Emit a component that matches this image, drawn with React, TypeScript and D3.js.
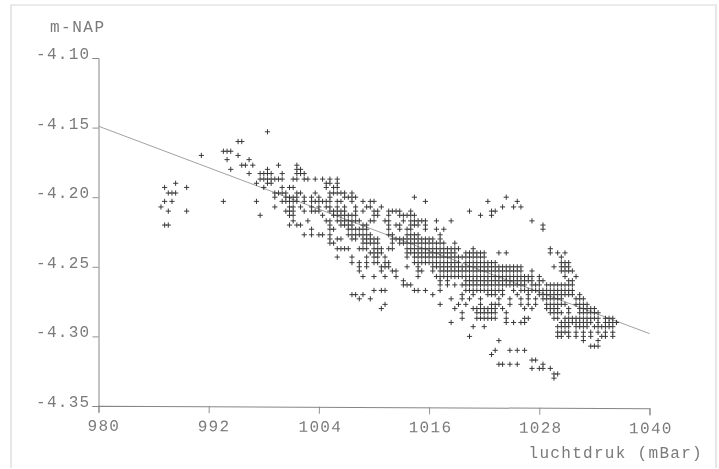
import React, { useEffect, useRef } from 'react'
import * as d3 from 'd3'

const yTicks = [-4.1, -4.15, -4.2, -4.25, -4.3, -4.35]
const xTicks = [980, 992, 1004, 1016, 1028, 1040]
const trendPressure = [980, 1040]
const trendLevel = [-4.149, -4.298]

const levels = [
  -4.153, -4.16, -4.167, -4.17, -4.173, -4.177, -4.18, -4.183, -4.187, -4.19, -4.193, -4.197, -4.2, -4.203,
  -4.207, -4.21, -4.213, -4.217, -4.22, -4.223, -4.227, -4.23, -4.233, -4.237, -4.24, -4.243, -4.247, -4.25,
  -4.253, -4.257, -4.26, -4.263, -4.267, -4.27, -4.273, -4.277, -4.28, -4.283, -4.287, -4.29, -4.293, -4.297,
  -4.3, -4.303, -4.307, -4.31, -4.313, -4.317, -4.32, -4.323, -4.327, -4.33,
]

// one list of pressures (mBar) per entry of levels
const pressures = [
  [998.4],
  [995.2, 995.6],
  [993.6, 994, 994.4],
  [991.2, 995.2],
  [994, 996.4],
  [995.6, 996, 996.8, 999.6, 1001.6],
  [994.4, 998.4, 1001.6, 1002],
  [996.4, 997.6, 998, 998.4, 998.8, 1000, 1001.6, 1002, 1002.4],
  [997.6, 998, 998.4, 998.8, 999.2, 999.6, 1000, 1001.2, 1001.6, 1002.4, 1002.8, 1003.6, 1004.4, 1005.2, 1006],
  [988.4, 997.2, 998.4, 998.8, 1004.8, 1005.2, 1006],
  [987.2, 989.6, 998, 1000, 1000.8, 1001.2, 1004.8, 1005.6, 1006],
  [987.6, 988, 988.4, 999.2, 999.6, 1000, 1000.4, 1001.6, 1002, 1003.6, 1005.2, 1005.6, 1006, 1006.4, 1006.8, 1007.6],
  [999.2, 1000.4, 1000.8, 1001.2, 1001.6, 1002.4, 1003.2, 1004, 1005.2, 1006.8, 1007.2, 1007.6, 1008, 1014.4, 1024.4],
  [987.2, 988, 993.6, 997.2, 1000, 1000.4, 1000.8, 1001.2, 1001.6, 1002.4, 1003.2, 1003.6, 1004, 1004.4, 1004.8, 1005.2, 1006, 1006.4, 1007.6, 1008.8, 1009.6, 1010, 1015.6, 1022.4, 1025.6],
  [986.8, 999.2, 1000.8, 1001.2, 1002, 1003.2, 1004, 1004.8, 1005.2, 1006, 1006.8, 1008, 1009.2, 1009.6, 1010.8, 1024, 1025.2, 1026],
  [987.6, 989.6, 1000.4, 1000.8, 1001.2, 1002.4, 1003.2, 1003.6, 1004, 1005.2, 1005.6, 1006, 1006.4, 1006.8, 1008, 1008.8, 1010, 1010.4, 1011.6, 1012, 1012.4, 1012.8, 1014, 1020.4, 1022.8, 1023.2],
  [997.6, 1000.8, 1001.2, 1004.4, 1005.6, 1006, 1006.4, 1006.8, 1007.2, 1007.6, 1008, 1010, 1010.4, 1011.6, 1012.8, 1013.2, 1013.6, 1014, 1014.4, 1021.6, 1022.8],
  [1001.2, 1002.8, 1004.8, 1005.2, 1006, 1006.4, 1006.8, 1007.2, 1007.6, 1008, 1008.4, 1009.6, 1010, 1011.2, 1011.6, 1013.2, 1014, 1014.4, 1014.8, 1015.2, 1015.6, 1016.8, 1018.4, 1027.2],
  [987.2, 987.6, 1000.8, 1001.6, 1002, 1005.2, 1006.4, 1006.8, 1007.2, 1007.6, 1008.8, 1009.2, 1011.6, 1012.4, 1012.8, 1014, 1014.4, 1014.8, 1015.6, 1028.4],
  [1003.2, 1005.2, 1005.6, 1007.2, 1007.6, 1008, 1008.4, 1008.8, 1009.2, 1011.6, 1012.8, 1013.6, 1014, 1015.6, 1016.8, 1017.6, 1028.4],
  [1002.4, 1003.2, 1004, 1004.4, 1005.2, 1007.2, 1007.6, 1008, 1008.4, 1008.8, 1009.2, 1009.6, 1011.6, 1012, 1013.6, 1014, 1014.4, 1014.8, 1017.2],
  [1005.2, 1006, 1006.4, 1007.6, 1008, 1008.8, 1009.2, 1009.6, 1010, 1010.4, 1012, 1012.4, 1012.8, 1013.2, 1013.6, 1014, 1014.4, 1014.8, 1015.2, 1015.6, 1016, 1016.4, 1017.2],
  [1005.2, 1005.6, 1008.8, 1009.2, 1009.6, 1010, 1010.4, 1012, 1012.8, 1013.2, 1013.6, 1014, 1014.4, 1014.8, 1015.2, 1015.6, 1016, 1016.4, 1016.8, 1017.2, 1017.6, 1018.8],
  [1006, 1006.4, 1006.8, 1007.2, 1008.4, 1008.8, 1009.2, 1010, 1010.4, 1010.8, 1011.6, 1012, 1013.6, 1014, 1014.4, 1014.8, 1015.2, 1015.6, 1016, 1016.4, 1016.8, 1017.2, 1017.6, 1018, 1018.4, 1018.8, 1019.2, 1020.8, 1029.2],
  [1009.6, 1010, 1010.4, 1010.8, 1013.6, 1014, 1014.4, 1014.8, 1015.2, 1015.6, 1016, 1016.4, 1016.8, 1017.2, 1017.6, 1018, 1018.4, 1018.8, 1020, 1020.4, 1020.8, 1021.2, 1021.6, 1022, 1023.6, 1024.4, 1029.2, 1030, 1030.8],
  [1006, 1007.6, 1009.2, 1010, 1010.4, 1011.2, 1013.6, 1014.4, 1014.8, 1015.2, 1015.6, 1016, 1016.4, 1016.8, 1017.2, 1017.6, 1018, 1018.4, 1018.8, 1019.2, 1019.6, 1020, 1020.4, 1020.8, 1021.2, 1021.6, 1022, 1030.4],
  [1007.6, 1008.4, 1009.2, 1010, 1010.4, 1011.2, 1011.6, 1014.4, 1014.8, 1015.2, 1015.6, 1016, 1016.4, 1016.8, 1017.2, 1017.6, 1018, 1018.4, 1018.8, 1019.2, 1020, 1020.4, 1020.8, 1021.2, 1021.6, 1022, 1022.4, 1022.8, 1023.2, 1030.4, 1030.8, 1031.2],
  [1008.4, 1009.2, 1010.8, 1011.2, 1011.6, 1013.6, 1014.8, 1016.4, 1016.8, 1017.2, 1017.6, 1018, 1018.4, 1018.8, 1019.2, 1019.6, 1020, 1020.4, 1020.8, 1021.2, 1021.6, 1022, 1022.4, 1022.8, 1023.2, 1023.6, 1024, 1024.4, 1024.8, 1025.2, 1025.6, 1026, 1029.6, 1030.4, 1030.8, 1031.2],
  [1008.4, 1010.8, 1012, 1012.4, 1014.8, 1015.2, 1016.4, 1017.2, 1017.6, 1018, 1018.4, 1018.8, 1019.2, 1019.6, 1020, 1020.4, 1020.8, 1021.2, 1021.6, 1022, 1022.4, 1022.8, 1023.2, 1023.6, 1024, 1024.4, 1024.8, 1025.2, 1025.6, 1026, 1027.2, 1030.4, 1030.8, 1031.2, 1031.6],
  [1008.8, 1010, 1011.2, 1012.4, 1014.8, 1016.8, 1017.2, 1017.6, 1018, 1018.4, 1018.8, 1019.2, 1019.6, 1020, 1020.4, 1020.8, 1021.2, 1021.6, 1022, 1022.4, 1022.8, 1023.2, 1023.6, 1024, 1024.4, 1024.8, 1025.2, 1025.6, 1026, 1026.4, 1026.8, 1027.2, 1028, 1030.8, 1032],
  [1013.2, 1017.2, 1018, 1020, 1020.4, 1020.8, 1021.2, 1021.6, 1022, 1022.4, 1022.8, 1023.2, 1023.6, 1024, 1024.4, 1024.8, 1025.2, 1025.6, 1026, 1026.4, 1026.8, 1027.2, 1028, 1028.4, 1031.2, 1031.6],
  [1013.2, 1013.6, 1014, 1017.2, 1018, 1018.8, 1019.6, 1020, 1020.4, 1020.8, 1021.2, 1021.6, 1022, 1022.4, 1022.8, 1023.2, 1023.6, 1024, 1024.4, 1024.8, 1025.2, 1025.6, 1026, 1026.4, 1027.2, 1027.6, 1028, 1028.8, 1029.2, 1029.6, 1030, 1030.4, 1030.8, 1031.2, 1031.6],
  [1010, 1010.8, 1011.2, 1014.4, 1014.8, 1015.6, 1017.2, 1020, 1020.4, 1020.8, 1021.2, 1021.6, 1022, 1022.4, 1022.8, 1023.2, 1023.6, 1024, 1025.2, 1026, 1026.4, 1026.8, 1027.2, 1027.6, 1028, 1028.4, 1028.8, 1029.2, 1029.6, 1030, 1030.4, 1030.8, 1031.2, 1031.6],
  [1007.6, 1008, 1008.8, 1016.4, 1019.6, 1020.8, 1022.4, 1022.8, 1023.2, 1024, 1025.6, 1026.8, 1028, 1028.4, 1028.8, 1029.2, 1029.6, 1030, 1030.4, 1030.8, 1031.2, 1031.6, 1032.4],
  [1008.4, 1009.6, 1018.4, 1019.6, 1020.4, 1021.6, 1023.6, 1024.8, 1026, 1026.8, 1027.6, 1028.4, 1028.8, 1029.2, 1029.6, 1030, 1030.4, 1032, 1032.4, 1032.8],
  [1011.2, 1017.2, 1019.2, 1020, 1021.6, 1022.8, 1023.2, 1023.6, 1024.8, 1026, 1026.8, 1027.6, 1028.8, 1029.2, 1029.6, 1030, 1030.4, 1030.8, 1032, 1032.4, 1032.8, 1033.2],
  [1010.8, 1018.8, 1020.8, 1021.2, 1021.6, 1022, 1022.4, 1022.8, 1023.2, 1024, 1026.4, 1027.2, 1028.8, 1029.2, 1029.6, 1030, 1031.2, 1032.4, 1032.8, 1033.2, 1033.6, 1034],
  [1019.6, 1021.2, 1021.6, 1022, 1022.4, 1022.8, 1023.2, 1024.4, 1029.2, 1029.6, 1030, 1030.4, 1031.2, 1032.4, 1032.8, 1033.2, 1033.6, 1034, 1034.4],
  [1019.6, 1021.2, 1021.6, 1022, 1022.4, 1022.8, 1023.2, 1024.4, 1026.4, 1026.8, 1029.6, 1030, 1030.8, 1031.2, 1031.6, 1032, 1032.4, 1032.8, 1033.2, 1033.6, 1034, 1034.4, 1035.2, 1035.6, 1036],
  [1018.4, 1024.4, 1025.2, 1026, 1026.4, 1030.4, 1030.8, 1031.2, 1031.6, 1032, 1032.4, 1032.8, 1033.2, 1033.6, 1034.4, 1035.2, 1035.6, 1036, 1036.4],
  [1020.8, 1022, 1030, 1030.4, 1030.8, 1031.2, 1032, 1032.4, 1032.8, 1033.2, 1034, 1034.4, 1034.8, 1035.2, 1035.6, 1036],
  [1030, 1030.4, 1030.8, 1031.2, 1032, 1032.8, 1033.6, 1034.4, 1035.2, 1036],
  [1020.4, 1030, 1030.4, 1031.2, 1032, 1032.8, 1033.6, 1034.8, 1035.2, 1036],
  [1023.6, 1032.8, 1034.4],
  [1033.6, 1034, 1034.4],
  [1023.2, 1024.8, 1025.6, 1026.4],
  [1022.8],
  [1027.2, 1027.6],
  [1023.6, 1024, 1024.8, 1025.6, 1028.4],
  [1027.2, 1028, 1028.4, 1029.2],
  [1029.6, 1030],
  [1029.6],
]

const width = 719
const height = 469
const axisColor = '#868686'
const textColor = '#7a7a7a'
const labelFont = '"Liberation Mono", monospace'

const App = () => {
  const svgRef = useRef<SVGSVGElement | null>(null)

  useEffect(() => {
    const svg = d3.select(svgRef.current)
    svg.selectAll('*').remove()

    svg
      .append('defs')
      .append('filter')
      .attr('id', 'scan')
      .append('feGaussianBlur')
      .attr('stdDeviation', 0.35)

    const root = svg.append('g').attr('filter', 'url(#scan)')

    const x = d3.scaleLinear().domain([980, 1040]).range([98.5, 649.5])
    const y = d3.scaleLinear().domain([-4.1, -4.35]).range([58, 406])

    // page edge of the scan
    root
      .append('path')
      .attr('d', `M11,${height - 1}V5H716V${height - 1}`)
      .attr('fill', 'none')
      .attr('stroke', '#d8d8d8')
      .attr('stroke-width', 1.2)

    const yAxis = d3
      .axisLeft(y)
      .tickValues(yTicks)
      .tickSize(6)
      .tickPadding(2)
      .tickFormat((d) => (d as number).toFixed(2))
    const xAxis = d3
      .axisBottom(x)
      .tickValues(xTicks)
      .tickSize(7)
      .tickPadding(10)
      .tickFormat((d) => String(d))

    const gY = root.append('g').attr('transform', 'translate(98.5,0)').call(yAxis)
    // the scanned sheet sits slightly skewed, the x axis runs down to the right
    const gX = root.append('g').attr('transform', 'translate(0,405.7) rotate(0.27 98.5 0)').call(xAxis)

    ;[gY, gX].forEach((g) => {
      g.select('.domain').attr('stroke', axisColor).attr('stroke-width', 1)
      g.selectAll('.tick line').attr('stroke', axisColor).attr('stroke-width', 0.9)
      g.selectAll('.tick text')
        .attr('fill', textColor)
        .style('font-family', labelFont)
        .style('font-size', '16px')
        .style('letter-spacing', '1.3px')
    })

    gY.selectAll('.tick text').attr('dy', '0.5px')
    gX.selectAll<SVGTextElement, number>('.tick text')
      .attr('dx', (d) => (d < 1000 ? 5 : 1))
      .attr('dy', '0.5em')

    root
      .append('text')
      .attr('x', 50)
      .attr('y', 32)
      .attr('fill', textColor)
      .style('font-family', labelFont)
      .style('font-size', '16px')
      .style('letter-spacing', '1.5px')
      .text('m-NAP')

    root
      .append('text')
      .attr('x', 703)
      .attr('y', 458)
      .attr('text-anchor', 'end')
      .attr('fill', textColor)
      .style('font-family', labelFont)
      .style('font-size', '16px')
      .style('letter-spacing', '1.3px')
      .text('luchtdruk (mBar)')

    const trend = d3
      .line<number>()
      .x((d) => x(d))
      .y((_, i) => y(trendLevel[i]))
    root
      .append('path')
      .attr('d', trend(trendPressure))
      .attr('fill', 'none')
      .attr('stroke', '#969696')
      .attr('stroke-width', 0.9)

    const points = levels.flatMap((level, i) => pressures[i].map((p) => ({ p, level })))
    const plus = 'M-2.6,0H2.6M0,-2.6V2.6'

    root
      .append('g')
      .selectAll('path')
      .data(points)
      .enter()
      .append('path')
      .attr('transform', (d) => `translate(${x(d.p)},${y(d.level)})`)
      .attr('d', plus)
      .attr('fill', 'none')
      .attr('stroke', '#333')
      .attr('stroke-width', 0.95)
  }, [])

  return (
    <svg
      ref={svgRef}
      width={width}
      height={height}
      style={{ position: 'absolute', left: 0, top: 0, background: '#fff' }}
    />
  )
}

export default App
